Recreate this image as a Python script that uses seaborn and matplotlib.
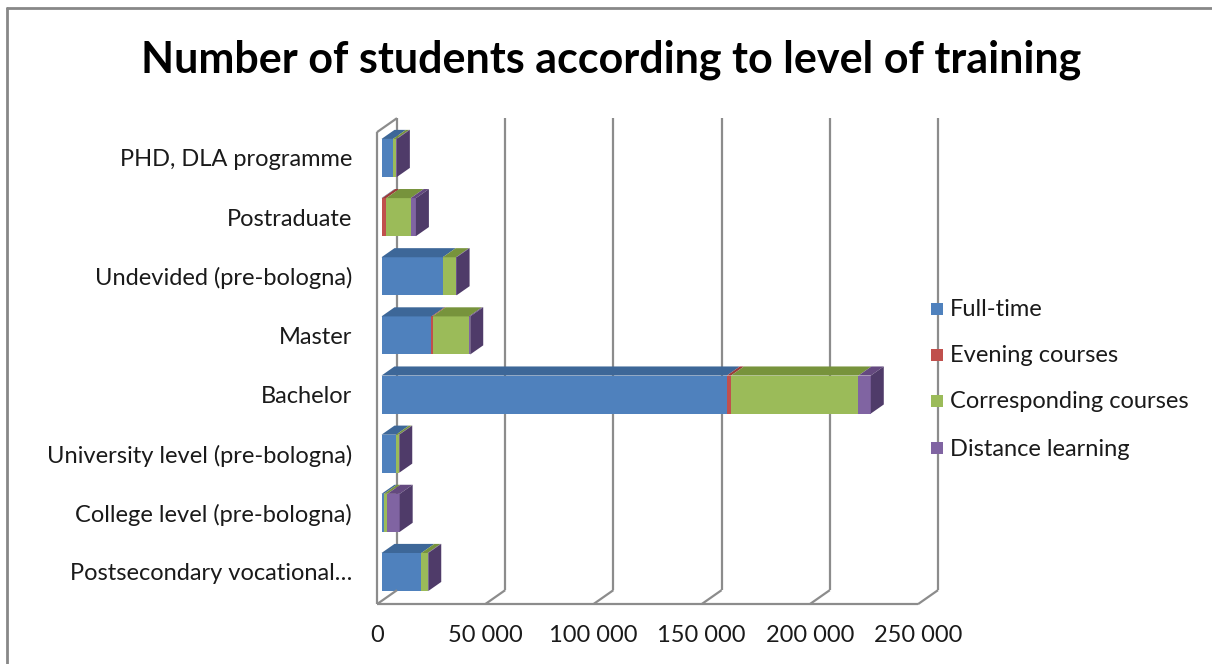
import numpy as np
import pandas as pd
import matplotlib
matplotlib.use("Agg")
import matplotlib.pyplot as plt
from matplotlib.patches import Polygon, Rectangle
from matplotlib.lines import Line2D
import seaborn as sns

# ---------------- data ----------------
categories = ["PHD, DLA programme", "Postraduate", "Undevided (pre-bologna)", "Master",
              "Bachelor", "University level (pre-bologna)", "College level (pre-bologna)",
              "Postsecondary vocational\u2026"]
full_time = [5300, 300, 28300, 23100, 159600, 6700, 1100, 18400]
evening = [0, 1900, 0, 500, 1900, 0, 0, 0]
corresponding = [1500, 11300, 6100, 16800, 58900, 1300, 1600, 2900]
distance = [300, 2400, 300, 600, 5700, 200, 5700, 300]
series_names = ["Full-time", "Evening courses", "Corresponding courses", "Distance learning"]
xticks = [0, 50000, 100000, 150000, 200000, 250000]
xtick_labels = ["0", "50 000", "100 000", "150 000", "200 000", "250 000"]
title = "Number of students according to level of training"

front_cols = ["#4F81BD", "#C0504D", "#9BBB59", "#8064A2"]
top_cols = ["#3D6798", "#9A3C3A", "#77933C", "#64497F"]
side_col = "#4F3B69"
grid_col = "#8C8C8C"

sns.set_theme(style="white")
plt.rcParams["font.family"] = ["Lato", "DejaVu Sans"]

W, H = 1212, 664
fig = plt.figure(figsize=(W / 100, H / 100), dpi=100)
fig.patch.set_facecolor("white")

# axes = front plane of bars
ax_left_px, ax_right_px = 381.5, 922.5
ax_top_px, ax_bot_px = 129, 601
ax = fig.add_axes([ax_left_px / W, 1 - ax_bot_px / H,
                   (ax_right_px - ax_left_px) / W, (ax_bot_px - ax_top_px) / H])
XMAX = 250000
YTOP, YBOT = -0.49, 7.49
ax.set_xlim(0, XMAX)
ax.set_ylim(YBOT, YTOP)
ax.axis("off")

xu = XMAX / (ax_right_px - ax_left_px)        # data units per px (x)
yu = (YBOT - YTOP) / (ax_bot_px - ax_top_px)  # data units per px (y, positive = down)


def P(xd, yd, d):
    """point at depth d (px along depth axis)"""
    return (xd + d * xu, yd - 0.7 * d * yu)


D_FRONT, D_BACK = -4.5, 15.5
BAR_D = 13
BAR_W = 0.643

# ---- walls / gridlines ----
lw = 1.6
def line(p1, p2, z=1):
    ax.add_line(Line2D([p1[0], p2[0]], [p1[1], p2[1]], color=grid_col, lw=lw,
                       zorder=z, clip_on=False, solid_capstyle="butt"))

# left wall
line(P(0, YBOT, D_FRONT), P(0, YTOP, D_FRONT))
line(P(0, YBOT, D_BACK), P(0, YTOP, D_BACK))
line(P(0, YTOP, D_FRONT), P(0, YTOP, D_BACK))
# back wall gridlines
for t in xticks[1:]:
    line(P(t, YBOT, D_BACK), P(t, YTOP, D_BACK))
# floor
line(P(0, YBOT, D_FRONT), P(XMAX, YBOT, D_FRONT), z=5)
for t in xticks:
    line(P(t, YBOT, D_FRONT), P(t, YBOT, D_BACK), z=5)

# ---- bars: front faces with seaborn (stack via cumulative overlap) ----
series = [full_time, evening, corresponding, distance]
cum = np.cumsum(np.array(series, dtype=float), axis=0)
df = pd.DataFrame({"category": categories})
for i in range(4):
    df[f"c{i}"] = cum[i]
for i in range(3, -1, -1):
    sns.barplot(data=df, x=f"c{i}", y="category", orient="h", color=front_cols[i],
                saturation=1, width=BAR_W, ax=ax, zorder=3, edgecolor="none", linewidth=0)
ax.set_xlim(0, XMAX)
ax.set_ylim(YBOT, YTOP)
ax.axis("off")

# ---- 3D top and side faces ----
for j in range(len(categories)):
    ytop = j - BAR_W / 2
    ybot = j + BAR_W / 2
    left = 0.0
    for i in range(4):
        right = cum[i][j]
        if right > left:
            poly = [P(left, ytop, 0), P(right, ytop, 0), P(right, ytop, BAR_D), P(left, ytop, BAR_D)]
            ax.add_patch(Polygon(poly, closed=True, facecolor=top_cols[i], edgecolor="none",
                                 zorder=3, clip_on=False))
        left = right
    tot = cum[3][j]
    poly = [P(tot, ytop, 0), P(tot, ytop, BAR_D), P(tot, ybot, BAR_D), P(tot, ybot, 0)]
    ax.add_patch(Polygon(poly, closed=True, facecolor=side_col, edgecolor="none",
                         zorder=3, clip_on=False))

# ---- labels ----
lab_fs = 17
for j, c in enumerate(categories):
    ax.text(352 / W, 1 - (160 + 59.1 * j) / H, c, transform=fig.transFigure,
            ha="right", va="center", fontsize=lab_fs, color="#1a1a1a")
for t, lbl in zip(xticks, xtick_labels):
    xp, yp = P(t, YBOT, D_FRONT)
    disp = ax.transData.transform((xp, yp))
    fx = disp[0] / W
    fig.text(fx, 1 - 636 / H, lbl, ha="center", va="center", fontsize=lab_fs, color="#1a1a1a")

# title
fig.text(611 / W, 1 - 60 / H, title, ha="center", va="center", fontsize=31,
         fontweight="bold", color="black")

# legend
leg_y = [309, 355, 401, 448]
for i, (name, yp) in enumerate(zip(series_names, leg_y)):
    fig.patches.append(Rectangle(((931) / W, 1 - (yp + 6) / H), 12 / W, 12 / H,
                                 transform=fig.transFigure, facecolor=front_cols[i],
                                 edgecolor="none"))
    fig.text(950 / W, 1 - (yp + 1) / H, name, ha="left", va="center", fontsize=lab_fs, color="#1a1a1a")

# chart border (top and left visible)
fig.lines.append(Line2D([7 / W, 1.0], [1 - 8 / H, 1 - 8 / H], transform=fig.transFigure,
                        color="#888888", lw=2))
fig.lines.append(Line2D([7 / W, 7 / W], [0, 1 - 8 / H], transform=fig.transFigure,
                        color="#888888", lw=2))

fig.savefig("out.png", dpi=100, facecolor="white")
